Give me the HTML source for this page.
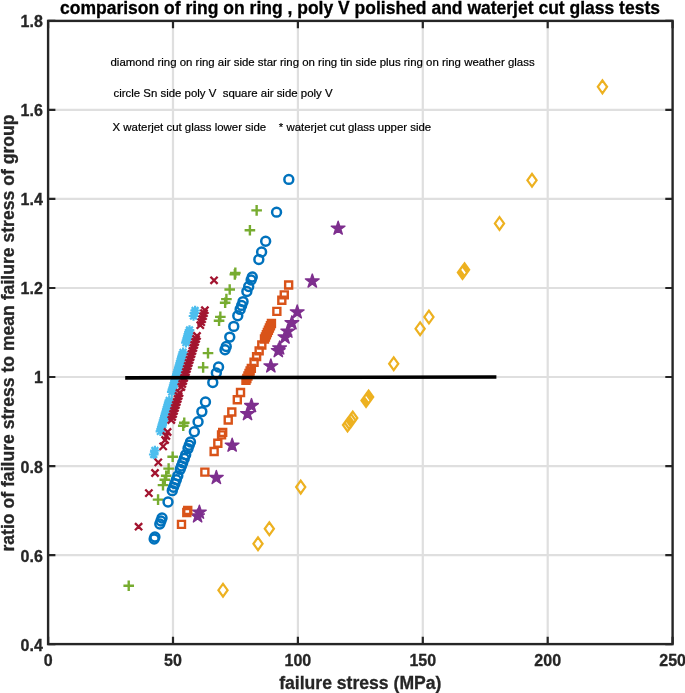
<!DOCTYPE html><html><head><meta charset="utf-8"><style>html,body{margin:0;padding:0;background:#fff;}svg{display:block;will-change:transform;filter:blur(0.4px);}text{font-family:"Liberation Sans",sans-serif;}</style></head><body>
<svg width="685" height="693" viewBox="0 0 685 693">
<rect width="685" height="693" fill="#fff"/>
<path d="M173.0 20.9V644.1M297.9 20.9V644.1M422.8 20.9V644.1M547.7 20.9V644.1M48.1 555.1H672.6M48.1 466.1H672.6M48.1 377.0H672.6M48.1 288.0H672.6M48.1 198.9H672.6M48.1 109.9H672.6" stroke="#262626" stroke-opacity="0.15" stroke-width="2.2" fill="none"/>
<g font-size="11.43" fill="#000" stroke="#000" stroke-width="0.2">
<text x="110.5" y="65.8">diamond ring on ring air side star ring on ring tin side plus ring on ring weather glass</text>
<text x="113.5" y="97.4" xml:space="preserve">circle Sn side poly V  square air side poly V</text>
<text x="112.5" y="130.7" xml:space="preserve">X waterjet cut glass lower side    * waterjet cut glass upper side</text>
</g>
<path d="M602.43 80.47L607.03 86.87L602.43 93.27L597.83 86.87ZM532.00 173.90L536.60 180.30L532.00 186.70L527.40 180.30ZM499.49 217.02L504.09 223.42L499.49 229.82L494.89 223.42ZM462.46 266.15L467.06 272.55L462.46 278.95L457.86 272.55ZM463.51 264.76L468.11 271.16L463.51 277.56L458.91 271.16ZM464.56 263.37L469.16 269.77L464.56 276.17L459.96 269.77ZM428.93 310.62L433.53 317.02L428.93 323.42L424.33 317.02ZM420.12 322.32L424.72 328.72L420.12 335.12L415.52 328.72ZM393.72 357.34L398.32 363.74L393.72 370.14L389.12 363.74ZM366.05 394.04L370.65 400.44L366.05 406.84L361.45 400.44ZM367.34 392.33L371.94 398.73L367.34 405.13L362.74 398.73ZM368.63 390.62L373.23 397.02L368.63 403.42L364.03 397.02ZM347.54 418.60L352.14 425.00L347.54 431.40L342.94 425.00ZM349.27 416.30L353.87 422.70L349.27 429.10L344.67 422.70ZM351.02 413.99L355.62 420.39L351.02 426.79L346.42 420.39ZM352.75 411.69L357.35 418.09L352.75 424.49L348.15 418.09ZM300.73 480.70L305.33 487.10L300.73 493.50L296.13 487.10ZM269.33 522.35L273.93 528.75L269.33 535.15L264.73 528.75ZM258.01 537.36L262.61 543.76L258.01 550.16L253.41 543.76ZM223.00 583.80L227.60 590.20L223.00 596.60L218.40 590.20Z" fill="none" stroke="#EDB120" stroke-width="2.2" stroke-linejoin="miter"/>
<path d="M338.15 221.12L339.76 226.10L344.99 226.10L340.76 229.17L342.38 234.15L338.15 231.07L333.91 234.15L335.53 229.17L331.30 226.10L336.53 226.10ZM312.30 274.05L313.91 279.02L319.15 279.03L314.91 282.10L316.53 287.08L312.30 284.00L308.07 287.08L309.68 282.10L305.45 279.03L310.68 279.02ZM297.22 304.91L298.84 309.89L304.07 309.89L299.84 312.96L301.46 317.94L297.22 314.86L292.99 317.94L294.61 312.96L290.38 309.89L295.61 309.89ZM291.91 315.80L293.52 320.78L298.75 320.78L294.52 323.85L296.14 328.83L291.91 325.75L287.67 328.83L289.29 323.85L285.06 320.78L290.29 320.78ZM287.80 324.20L289.42 329.18L294.65 329.18L290.42 332.25L292.04 337.23L287.80 334.15L283.57 337.23L285.19 332.25L280.96 329.18L286.19 329.18ZM284.96 330.03L286.57 335.01L291.80 335.01L287.57 338.08L289.19 343.06L284.96 339.98L280.72 343.06L282.34 338.08L278.11 335.01L283.34 335.01ZM279.60 341.00L281.22 345.98L286.45 345.98L282.22 349.05L283.83 354.03L279.60 350.95L275.37 354.03L276.98 349.05L272.75 345.98L277.98 345.98ZM278.30 343.66L279.92 348.63L285.15 348.63L280.92 351.71L282.54 356.68L278.30 353.61L274.07 356.68L275.69 351.71L271.46 348.63L276.69 348.63ZM270.85 358.92L272.47 363.90L277.70 363.90L273.46 366.97L275.08 371.95L270.85 368.87L266.62 371.95L268.23 366.97L264.00 363.90L269.23 363.90ZM251.48 398.59L253.09 403.56L258.32 403.56L254.09 406.64L255.71 411.61L251.48 408.54L247.24 411.61L248.86 406.64L244.63 403.56L249.86 403.56ZM247.53 406.67L249.15 411.64L254.38 411.64L250.15 414.72L251.76 419.69L247.53 416.62L243.30 419.69L244.92 414.72L240.68 411.64L245.91 411.64ZM232.16 438.13L233.78 443.11L239.01 443.11L234.78 446.18L236.40 451.16L232.16 448.08L227.93 451.16L229.55 446.18L225.32 443.11L230.55 443.11ZM216.34 470.52L217.96 475.50L223.19 475.50L218.96 478.57L220.58 483.55L216.34 480.47L212.11 483.55L213.73 478.57L209.50 475.50L214.73 475.50ZM199.39 505.24L201.00 510.22L206.23 510.22L202.00 513.29L203.62 518.27L199.39 515.20L195.16 518.27L196.77 513.29L192.54 510.22L197.77 510.22ZM197.60 508.90L199.22 513.88L204.45 513.88L200.22 516.95L201.83 521.93L197.60 518.85L193.37 521.93L194.99 516.95L190.75 513.88L195.98 513.88Z" fill="#7E2F8E" stroke="#7E2F8E" stroke-width="1.4" stroke-linejoin="round"/>
<path d="M251.34 210.41h10.60M256.64 205.11v10.60M244.60 230.20h10.60M249.90 224.90v10.60M230.04 272.91h10.60M235.34 267.61v10.60M229.53 274.41h10.60M234.83 269.11v10.60M224.40 289.47h10.60M229.70 284.17v10.60M221.10 299.13h10.60M226.40 293.83v10.60M219.85 302.81h10.60M225.15 297.51v10.60M215.04 316.91h10.60M220.34 311.61v10.60M213.76 320.69h10.60M219.06 315.39v10.60M202.71 353.10h10.60M208.01 347.80v10.60M197.84 367.38h10.60M203.14 362.08v10.60M178.96 422.76h10.60M184.26 417.46v10.60M177.95 425.72h10.60M183.25 420.42v10.60M167.37 456.76h10.60M172.67 451.46v10.60M163.33 468.61h10.60M168.63 463.31v10.60M160.92 475.71h10.60M166.22 470.41v10.60M159.53 479.78h10.60M164.83 474.48v10.60M157.70 485.14h10.60M163.00 479.84v10.60M152.76 499.62h10.60M158.06 494.32v10.60M123.42 585.71h10.60M128.72 580.41v10.60" fill="none" stroke="#77AC30" stroke-width="2.4" />
<g fill="none" stroke="#0072BD" stroke-width="2.5"><circle cx="288.81" cy="179.42" r="4.45"/><circle cx="276.55" cy="212.16" r="4.45"/><circle cx="265.66" cy="241.24" r="4.45"/><circle cx="261.61" cy="252.05" r="4.45"/><circle cx="258.83" cy="259.48" r="4.45"/><circle cx="252.26" cy="277.02" r="4.45"/><circle cx="251.13" cy="280.05" r="4.45"/><circle cx="248.70" cy="286.54" r="4.45"/><circle cx="246.86" cy="291.45" r="4.45"/><circle cx="243.06" cy="301.60" r="4.45"/><circle cx="241.63" cy="305.42" r="4.45"/><circle cx="240.14" cy="309.39" r="4.45"/><circle cx="237.77" cy="315.71" r="4.45"/><circle cx="233.78" cy="326.39" r="4.45"/><circle cx="229.76" cy="337.12" r="4.45"/><circle cx="226.26" cy="346.45" r="4.45"/><circle cx="225.02" cy="349.77" r="4.45"/><circle cx="218.55" cy="367.06" r="4.45"/><circle cx="216.32" cy="373.00" r="4.45"/><circle cx="212.78" cy="382.46" r="4.45"/><circle cx="205.48" cy="401.97" r="4.45"/><circle cx="201.87" cy="411.60" r="4.45"/><circle cx="198.06" cy="421.76" r="4.45"/><circle cx="194.34" cy="431.71" r="4.45"/><circle cx="190.49" cy="441.99" r="4.45"/><circle cx="189.24" cy="445.32" r="4.45"/><circle cx="188.01" cy="448.60" r="4.45"/><circle cx="185.68" cy="454.83" r="4.45"/><circle cx="184.29" cy="458.53" r="4.45"/><circle cx="182.72" cy="462.74" r="4.45"/><circle cx="181.48" cy="466.03" r="4.45"/><circle cx="180.24" cy="469.35" r="4.45"/><circle cx="177.81" cy="475.84" r="4.45"/><circle cx="176.35" cy="479.75" r="4.45"/><circle cx="174.89" cy="483.63" r="4.45"/><circle cx="173.50" cy="487.34" r="4.45"/><circle cx="172.27" cy="490.63" r="4.45"/><circle cx="168.03" cy="501.97" r="4.45"/><circle cx="162.02" cy="518.01" r="4.45"/><circle cx="160.91" cy="520.97" r="4.45"/><circle cx="159.80" cy="523.93" r="4.45"/><circle cx="154.92" cy="536.97" r="4.45"/><circle cx="154.16" cy="538.99" r="4.45"/></g>
<path d="M285.15 281.55h7.00v7.00h-7.00ZM280.77 291.33h7.00v7.00h-7.00ZM278.32 296.81h7.00v7.00h-7.00ZM273.36 307.88h7.00v7.00h-7.00ZM267.94 319.99h7.00v7.00h-7.00ZM266.95 322.20h7.00v7.00h-7.00ZM265.92 324.49h7.00v7.00h-7.00ZM264.90 326.78h7.00v7.00h-7.00ZM263.87 329.07h7.00v7.00h-7.00ZM262.88 331.28h7.00v7.00h-7.00ZM261.91 333.46h7.00v7.00h-7.00ZM261.00 335.49h7.00v7.00h-7.00ZM258.31 341.49h7.00v7.00h-7.00ZM255.67 347.38h7.00v7.00h-7.00ZM253.10 353.12h7.00v7.00h-7.00ZM250.55 358.81h7.00v7.00h-7.00ZM247.84 364.86h7.00v7.00h-7.00ZM246.63 367.56h7.00v7.00h-7.00ZM245.53 370.02h7.00v7.00h-7.00ZM244.44 372.47h7.00v7.00h-7.00ZM243.34 374.93h7.00v7.00h-7.00ZM242.47 376.85h7.00v7.00h-7.00ZM237.03 389.01h7.00v7.00h-7.00ZM233.81 396.19h7.00v7.00h-7.00ZM228.30 408.49h7.00v7.00h-7.00ZM224.73 416.47h7.00v7.00h-7.00ZM219.18 428.86h7.00v7.00h-7.00ZM218.05 431.39h7.00v7.00h-7.00ZM214.32 439.71h7.00v7.00h-7.00ZM210.64 447.93h7.00v7.00h-7.00ZM201.37 468.64h7.00v7.00h-7.00ZM184.24 506.88h7.00v7.00h-7.00ZM183.30 509.00h7.00v7.00h-7.00ZM177.99 520.84h7.00v7.00h-7.00Z" fill="none" stroke="#D95319" stroke-width="2.4" stroke-linejoin="miter"/>
<path d="M190.31 310.50h9.60M195.11 305.70v9.60M191.71 307.11l6.79 6.79M191.71 313.89l6.79 -6.79M189.59 313.00h9.60M194.39 308.20v9.60M191.00 309.61l6.79 6.79M191.00 316.39l6.79 -6.79M188.73 316.00h9.60M193.53 311.20v9.60M190.13 312.61l6.79 6.79M190.13 319.39l6.79 -6.79M184.71 330.00h9.60M189.51 325.20v9.60M186.11 326.61l6.79 6.79M186.11 333.39l6.79 -6.79M184.10 332.10h9.60M188.90 327.30v9.60M185.51 328.71l6.79 6.79M185.51 335.49l6.79 -6.79M183.50 334.20h9.60M188.30 329.40v9.60M184.90 330.81l6.79 6.79M184.90 337.59l6.79 -6.79M182.90 336.30h9.60M187.70 331.50v9.60M184.30 332.91l6.79 6.79M184.30 339.69l6.79 -6.79M182.29 338.40h9.60M187.09 333.60v9.60M183.70 335.01l6.79 6.79M183.70 341.79l6.79 -6.79M181.69 340.50h9.60M186.49 335.70v9.60M183.10 337.11l6.79 6.79M183.10 343.89l6.79 -6.79M181.09 342.60h9.60M185.89 337.80v9.60M182.49 339.21l6.79 6.79M182.49 345.99l6.79 -6.79M181.09 342.60h9.60M185.89 337.80v9.60M182.49 339.21l6.79 6.79M182.49 345.99l6.79 -6.79M178.30 352.30h9.60M183.10 347.50v9.60M179.71 348.91l6.79 6.79M179.71 355.69l6.79 -6.79M177.67 354.50h9.60M182.47 349.70v9.60M179.07 351.11l6.79 6.79M179.07 357.89l6.79 -6.79M177.04 356.70h9.60M181.84 351.90v9.60M178.44 353.31l6.79 6.79M178.44 360.09l6.79 -6.79M176.40 358.90h9.60M181.20 354.10v9.60M177.81 355.51l6.79 6.79M177.81 362.29l6.79 -6.79M175.77 361.10h9.60M180.57 356.30v9.60M177.18 357.71l6.79 6.79M177.18 364.49l6.79 -6.79M175.14 363.30h9.60M179.94 358.50v9.60M176.55 359.91l6.79 6.79M176.55 366.69l6.79 -6.79M174.51 365.50h9.60M179.31 360.70v9.60M175.91 362.11l6.79 6.79M175.91 368.89l6.79 -6.79M173.88 367.70h9.60M178.68 362.90v9.60M175.28 364.31l6.79 6.79M175.28 371.09l6.79 -6.79M173.24 369.90h9.60M178.04 365.10v9.60M174.65 366.51l6.79 6.79M174.65 373.29l6.79 -6.79M172.61 372.10h9.60M177.41 367.30v9.60M174.02 368.71l6.79 6.79M174.02 375.49l6.79 -6.79M171.98 374.30h9.60M176.78 369.50v9.60M173.38 370.91l6.79 6.79M173.38 377.69l6.79 -6.79M171.35 376.50h9.60M176.15 371.70v9.60M172.75 373.11l6.79 6.79M172.75 379.89l6.79 -6.79M170.71 378.70h9.60M175.51 373.90v9.60M172.12 375.31l6.79 6.79M172.12 382.09l6.79 -6.79M170.08 380.90h9.60M174.88 376.10v9.60M171.49 377.51l6.79 6.79M171.49 384.29l6.79 -6.79M169.45 383.10h9.60M174.25 378.30v9.60M170.86 379.71l6.79 6.79M170.86 386.49l6.79 -6.79M168.82 385.30h9.60M173.62 380.50v9.60M170.22 381.91l6.79 6.79M170.22 388.69l6.79 -6.79M168.19 387.50h9.60M172.99 382.70v9.60M169.59 384.11l6.79 6.79M169.59 390.89l6.79 -6.79M167.55 389.70h9.60M172.35 384.90v9.60M168.96 386.31l6.79 6.79M168.96 393.09l6.79 -6.79M166.92 391.90h9.60M171.72 387.10v9.60M168.33 388.51l6.79 6.79M168.33 395.29l6.79 -6.79M164.45 400.50h9.60M169.25 395.70v9.60M165.86 397.11l6.79 6.79M165.86 403.89l6.79 -6.79M163.82 402.70h9.60M168.62 397.90v9.60M165.23 399.31l6.79 6.79M165.23 406.09l6.79 -6.79M163.19 404.90h9.60M167.99 400.10v9.60M164.59 401.51l6.79 6.79M164.59 408.29l6.79 -6.79M162.56 407.10h9.60M167.36 402.30v9.60M163.96 403.71l6.79 6.79M163.96 410.49l6.79 -6.79M161.92 409.30h9.60M166.72 404.50v9.60M163.33 405.91l6.79 6.79M163.33 412.69l6.79 -6.79M161.29 411.50h9.60M166.09 406.70v9.60M162.70 408.11l6.79 6.79M162.70 414.89l6.79 -6.79M160.66 413.70h9.60M165.46 408.90v9.60M162.07 410.31l6.79 6.79M162.07 417.09l6.79 -6.79M160.03 415.90h9.60M164.83 411.10v9.60M161.43 412.51l6.79 6.79M161.43 419.29l6.79 -6.79M159.40 418.10h9.60M164.20 413.30v9.60M160.80 414.71l6.79 6.79M160.80 421.49l6.79 -6.79M158.76 420.30h9.60M163.56 415.50v9.60M160.17 416.91l6.79 6.79M160.17 423.69l6.79 -6.79M158.13 422.50h9.60M162.93 417.70v9.60M159.54 419.11l6.79 6.79M159.54 425.89l6.79 -6.79M157.50 424.70h9.60M162.30 419.90v9.60M158.91 421.31l6.79 6.79M158.91 428.09l6.79 -6.79M156.87 426.90h9.60M161.67 422.10v9.60M158.27 423.51l6.79 6.79M158.27 430.29l6.79 -6.79M156.24 429.10h9.60M161.04 424.30v9.60M157.64 425.71l6.79 6.79M157.64 432.49l6.79 -6.79M155.60 431.30h9.60M160.40 426.50v9.60M157.01 427.91l6.79 6.79M157.01 434.69l6.79 -6.79M150.09 450.50h9.60M154.89 445.70v9.60M151.49 447.11l6.79 6.79M151.49 453.89l6.79 -6.79M148.94 454.50h9.60M153.74 449.70v9.60M150.34 451.11l6.79 6.79M150.34 457.89l6.79 -6.79" fill="none" stroke="#4DBEEE" stroke-width="2.2" />
<path d="M210.43 276.70l7.20 7.20M210.43 283.90l7.20 -7.20M201.28 306.60l7.20 7.20M201.28 313.80l7.20 -7.20M200.36 309.60l7.20 7.20M200.36 316.80l7.20 -7.20M199.44 312.60l7.20 7.20M199.44 319.80l7.20 -7.20M198.52 315.60l7.20 7.20M198.52 322.80l7.20 -7.20M197.60 318.60l7.20 7.20M197.60 325.80l7.20 -7.20M196.68 321.60l7.20 7.20M196.68 328.80l7.20 -7.20M193.38 332.40l7.20 7.20M193.38 339.60l7.20 -7.20M192.46 335.40l7.20 7.20M192.46 342.60l7.20 -7.20M191.54 338.40l7.20 7.20M191.54 345.60l7.20 -7.20M190.62 341.40l7.20 7.20M190.62 348.60l7.20 -7.20M189.70 344.40l7.20 7.20M189.70 351.60l7.20 -7.20M188.78 347.40l7.20 7.20M188.78 354.60l7.20 -7.20M187.86 350.40l7.20 7.20M187.86 357.60l7.20 -7.20M186.95 353.40l7.20 7.20M186.95 360.60l7.20 -7.20M186.03 356.40l7.20 7.20M186.03 363.60l7.20 -7.20M185.11 359.40l7.20 7.20M185.11 366.60l7.20 -7.20M184.19 362.40l7.20 7.20M184.19 369.60l7.20 -7.20M183.27 365.40l7.20 7.20M183.27 372.60l7.20 -7.20M182.35 368.40l7.20 7.20M182.35 375.60l7.20 -7.20M181.43 371.40l7.20 7.20M181.43 378.60l7.20 -7.20M180.52 374.40l7.20 7.20M180.52 381.60l7.20 -7.20M179.60 377.40l7.20 7.20M179.60 384.60l7.20 -7.20M178.68 380.40l7.20 7.20M178.68 387.60l7.20 -7.20M177.76 383.40l7.20 7.20M177.76 390.60l7.20 -7.20M175.92 389.40l7.20 7.20M175.92 396.60l7.20 -7.20M175.00 392.40l7.20 7.20M175.00 399.60l7.20 -7.20M174.09 395.40l7.20 7.20M174.09 402.60l7.20 -7.20M173.17 398.40l7.20 7.20M173.17 405.60l7.20 -7.20M172.25 401.40l7.20 7.20M172.25 408.60l7.20 -7.20M171.33 404.40l7.20 7.20M171.33 411.60l7.20 -7.20M170.41 407.40l7.20 7.20M170.41 414.60l7.20 -7.20M169.49 410.40l7.20 7.20M169.49 417.60l7.20 -7.20M168.57 413.40l7.20 7.20M168.57 420.60l7.20 -7.20M167.66 416.40l7.20 7.20M167.66 423.60l7.20 -7.20M163.98 428.40l7.20 7.20M163.98 435.60l7.20 -7.20M162.76 432.40l7.20 7.20M162.76 439.60l7.20 -7.20M161.53 436.40l7.20 7.20M161.53 443.60l7.20 -7.20M159.57 442.80l7.20 7.20M159.57 450.00l7.20 -7.20M154.67 458.80l7.20 7.20M154.67 466.00l7.20 -7.20M151.43 469.40l7.20 7.20M151.43 476.60l7.20 -7.20M145.27 489.50l7.20 7.20M145.27 496.70l7.20 -7.20M134.99 523.10l7.20 7.20M134.99 530.30l7.20 -7.20" fill="none" stroke="#A2142F" stroke-width="2.3" />
<line x1="125.2" y1="377.8" x2="496.4" y2="377.0" stroke="#000" stroke-width="3.7" stroke-linecap="butt"/>
<path d="M48.1 644.1V636.8M48.1 20.9V28.2M173.0 644.1V636.8M173.0 20.9V28.2M297.9 644.1V636.8M297.9 20.9V28.2M422.8 644.1V636.8M422.8 20.9V28.2M547.7 644.1V636.8M547.7 20.9V28.2M672.6 644.1V636.8M672.6 20.9V28.2M48.1 644.1H55.4M672.6 644.1H665.3M48.1 555.1H55.4M672.6 555.1H665.3M48.1 466.1H55.4M672.6 466.1H665.3M48.1 377.0H55.4M672.6 377.0H665.3M48.1 288.0H55.4M672.6 288.0H665.3M48.1 198.9H55.4M672.6 198.9H665.3M48.1 109.9H55.4M672.6 109.9H665.3M48.1 20.9H55.4M672.6 20.9H665.3" stroke="#262626" stroke-width="2.2" fill="none"/>
<rect x="48.1" y="20.9" width="624.5" height="623.2" stroke="#262626" stroke-width="2.4" fill="none"/>
<g font-size="16" font-weight="bold" fill="#262626" stroke="#262626" stroke-width="0.3">
<text x="48.1" y="666" text-anchor="middle">0</text>
<text x="173.0" y="666" text-anchor="middle">50</text>
<text x="297.9" y="666" text-anchor="middle">100</text>
<text x="422.8" y="666" text-anchor="middle">150</text>
<text x="547.7" y="666" text-anchor="middle">200</text>
<text x="672.6" y="666" text-anchor="middle">250</text>
<text x="42.8" y="650.5" text-anchor="end">0.4</text>
<text x="42.8" y="561.5" text-anchor="end">0.6</text>
<text x="42.8" y="472.5" text-anchor="end">0.8</text>
<text x="42.8" y="383.4" text-anchor="end">1</text>
<text x="42.8" y="294.4" text-anchor="end">1.2</text>
<text x="42.8" y="205.3" text-anchor="end">1.4</text>
<text x="42.8" y="116.3" text-anchor="end">1.6</text>
<text x="42.8" y="27.3" text-anchor="end">1.8</text>
</g>
<g font-size="17.5" font-weight="bold" fill="#000" stroke="#000" stroke-width="0.3">
<text x="360" y="13.5" text-anchor="middle">comparison of ring on ring , poly V polished and waterjet cut glass tests</text>
</g>
<g font-size="17.6" font-weight="bold" fill="#262626" stroke="#262626" stroke-width="0.3">
<text x="360.3" y="689" text-anchor="middle">failure stress (MPa)</text>
<text transform="translate(13.8,333) rotate(-90)" x="0" y="0" text-anchor="middle">ratio of failure stress to mean failure stress of group</text>
</g>
</svg></body></html>
